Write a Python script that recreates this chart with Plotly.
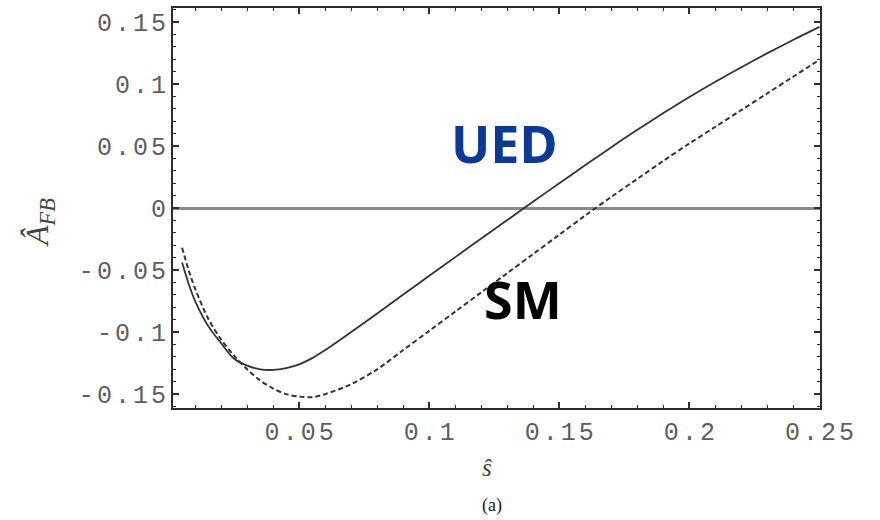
import plotly.graph_objects as go

# Forward-backward asymmetry versus normalised dilepton mass
s_hat = [0.005, 0.0075, 0.01, 0.015, 0.02, 0.025, 0.03, 0.035, 0.04, 0.045,
         0.05, 0.055, 0.06, 0.07, 0.08, 0.09, 0.10, 0.11, 0.12, 0.13, 0.14,
         0.15, 0.16, 0.17, 0.18, 0.19, 0.20, 0.21, 0.22, 0.23, 0.24, 0.25]

afb_ued = [-0.044, -0.061, -0.075, -0.095, -0.109, -0.1215, -0.127, -0.1300,
           -0.1305, -0.1290, -0.1260, -0.1210, -0.1145, -0.100, -0.0850,
           -0.0698, -0.0546, -0.0396, -0.0246, -0.0097, 0.0052, 0.0200,
           0.0346, 0.0490, 0.0630, 0.0765, 0.0895, 0.1018, 0.1135, 0.1248,
           0.1356, 0.1460]

afb_sm = [-0.032, -0.050, -0.065, -0.089, -0.106, -0.119, -0.130, -0.139,
          -0.1455, -0.150, -0.152, -0.1525, -0.150, -0.142, -0.130, -0.1145,
          -0.099, -0.0835, -0.068, -0.0525, -0.037, -0.0215, -0.006, 0.009,
          0.0235, 0.038, 0.052, 0.0655, 0.079, 0.0925, 0.106, 0.1195]

x_ticks = [0.05, 0.1, 0.15, 0.2, 0.25]
x_labels = ["0.05", "0.1", "0.15", "0.2", "0.25"]
y_ticks = [-0.15, -0.1, -0.05, 0, 0.05, 0.1, 0.15]
y_labels = ["-0.15", "-0.1", "-0.05", "0", "0.05", "0.1", "0.15"]

curve_color = "#333333"
frame_color = "#2e2e2e"
tick_font = dict(family="Liberation Mono", size=25, color="#5e5e5e")

GAP = "<span style='font-size:5px'>\u00a0</span>"


def spaced(label):
    # typewriter-style labels with a little extra letter spacing
    return GAP.join(label)


fig = go.Figure()
fig.add_trace(go.Scatter(x=s_hat, y=afb_ued, mode="lines", name="UED",
                         line=dict(color=curve_color, width=1.8,
                                   shape="spline", smoothing=0.9)))
fig.add_trace(go.Scatter(x=s_hat, y=afb_sm, mode="lines", name="SM",
                         line=dict(color=curve_color, width=2.0, dash="5px,3px",
                                   shape="spline", smoothing=0.9)))

axis_common = dict(
    showline=True, linecolor=frame_color, linewidth=2, mirror="allticks",
    ticks="inside", ticklen=6, tickwidth=1.5, tickcolor=frame_color,
    showgrid=False, tickfont=tick_font,
)

fig.update_xaxes(
    range=[0.0015, 0.2502], tickvals=x_ticks,
    ticktext=[spaced(t) for t in x_labels],
    minor=dict(ticks="inside", ticklen=3, tickwidth=1.2, dtick=0.01, tick0=0,
               tickcolor=frame_color, showgrid=False),
    zeroline=False, **axis_common,
)
fig.update_yaxes(
    range=[-0.1612, 0.1612], tickvals=y_ticks,
    ticktext=[spaced(t) for t in y_labels],
    minor=dict(ticks="inside", ticklen=3, tickwidth=1.2, dtick=0.01, tick0=0,
               tickcolor=frame_color, showgrid=False),
    zeroline=True, zerolinecolor="#8a8a8a", zerolinewidth=3,
    **axis_common,
)

annotations = [
    dict(x=0.1288, y=0.053, xref="x", yref="y", text="<b>UED</b>",
         showarrow=False, font=dict(family="Noto Sans", size=52, color="#0b3a96")),
    dict(x=0.136, y=-0.073, xref="x", yref="y", text="<b>SM</b>",
         showarrow=False, font=dict(family="Noto Sans", size=52, color="#000000")),
    dict(x=40, y=222, xref="paper", yref="paper", text="<i>Â</i><sub><i>FB</i></sub>",
         showarrow=False, textangle=-90,
         font=dict(family="Liberation Serif", size=32, color="#444444")),
    dict(x=487, y=468, text="<i>ŝ</i>", showarrow=False,
         font=dict(family="Liberation Serif", size=25, color="#444444")),
    dict(x=492, y=506, text="(a)", showarrow=False,
         font=dict(family="Liberation Serif", size=18, color="#222222")),
]

# Pixel-positioned labels outside the plotting frame
W, H = 880, 520
L, R, T, B = 173, 60, 6, 112
pw, ph = W - L - R, H - T - B
for a in annotations:
    if a.get("xref") == "paper" or "xref" not in a:
        px, py = a["x"], a["y"]
        a["xref"], a["yref"] = "paper", "paper"
        a["x"] = (px - L) / pw
        a["y"] = (H - B - py) / ph
        a["xanchor"], a["yanchor"] = "center", "middle"

fig.update_layout(
    width=W, height=H, margin=dict(l=L, r=R, t=T, b=B),
    paper_bgcolor="white", plot_bgcolor="white", showlegend=False,
    annotations=annotations,
)

fig.write_html("out.html")
